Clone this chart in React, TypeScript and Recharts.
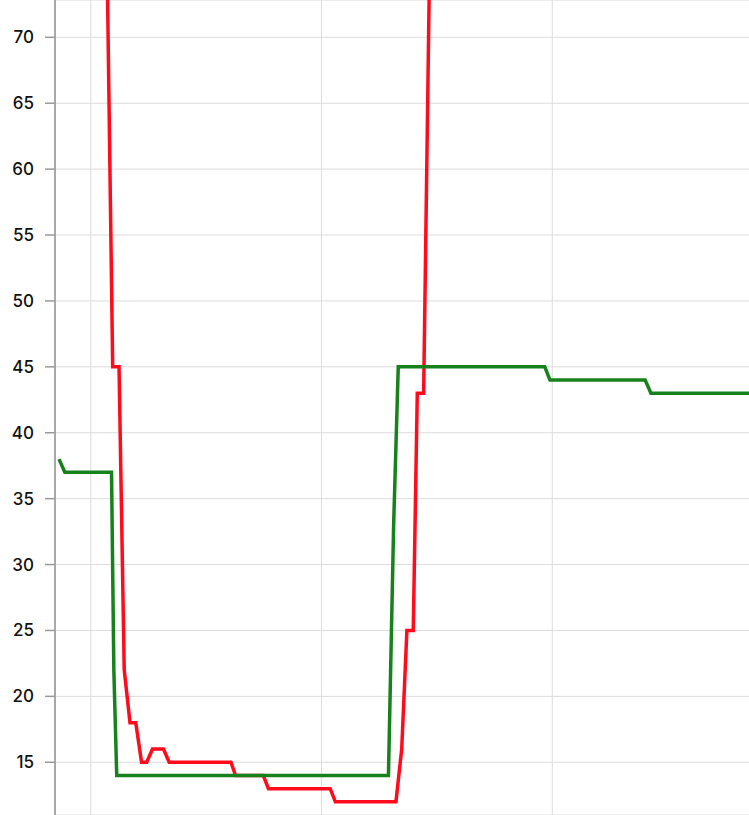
import React from 'react';
import { LineChart, Line, XAxis, YAxis, CartesianGrid, ReferenceLine } from 'recharts';

// green series (x in sample units, y in value)
const greenX = [-5.5, -4.5, 3.6, 4.0, 4.5, 51.6, 52.5, 53.3, 78.7, 79.6, 96.1, 97.1, 115];
const greenY = [38, 37, 37, 22, 14, 14, 33, 45, 45, 44, 44, 43, 43];

// red series
const redX = [2.8, 3.8, 4.9, 5.8, 6.8, 7.8, 8.8, 9.7, 10.7, 12.6, 13.6, 24.3, 25.1, 29.9, 30.8, 41.5, 42.4, 52.9, 53.9, 54.8, 55.9, 56.6, 57.7, 58.7];
const redY = [76.5, 45, 45, 22, 18, 18, 15, 15, 16, 16, 15, 15, 14, 14, 13, 13, 12, 12, 16, 25, 25, 43, 43, 74.5];

const xTicks = [0, 40, 80];
const yTicks = [15, 20, 25, 30, 35, 40, 45, 50, 55, 60, 65, 70];

const greenData = greenX.map((x, i) => ({ x, y: greenY[i] }));
const redData = redX.map((x, i) => ({ x, y: redY[i] }));

export default function App() {
  return (
    <div style={{ position: 'absolute', left: 0, top: 0, background: '#fff' }}>
      <LineChart width={749} height={815} margin={{ top: 0, right: 0, bottom: 0, left: 0 }}>
        <CartesianGrid stroke="#dcdcdc" strokeWidth={1} vertical={false} />
        <XAxis
          type="number"
          dataKey="x"
          domain={[-6.2, 114.1]}
          ticks={xTicks}
          allowDataOverflow
          height={0}
          tick={false}
          axisLine={false}
          tickLine={false}
        />
        <YAxis
          type="number"
          dataKey="y"
          domain={[11, 72.83]}
          ticks={yTicks}
          allowDataOverflow
          width={55}
          tickSize={10}
          tickMargin={11}
          axisLine={{ stroke: '#a8a8a8', strokeWidth: 2 }}
          tickLine={{ stroke: '#999999', strokeWidth: 1.5 }}
          tick={{ fill: '#111', fontSize: 17, fontWeight: 500, fontFamily: 'Inter, sans-serif' }}
        />
        {xTicks.map((t) => (
          <ReferenceLine key={t} x={t} stroke="#dcdcdc" strokeWidth={1} />
        ))}
        <Line
          data={redData}
          dataKey="y"
          type="linear"
          stroke="#ff0b1b"
          strokeWidth={3.5}
          dot={false}
          activeDot={false}
          isAnimationActive={false}
        />
        <Line
          data={greenData}
          dataKey="y"
          type="linear"
          stroke="#17821c"
          strokeWidth={3.5}
          dot={false}
          activeDot={false}
          isAnimationActive={false}
        />
      </LineChart>
    </div>
  );
}
